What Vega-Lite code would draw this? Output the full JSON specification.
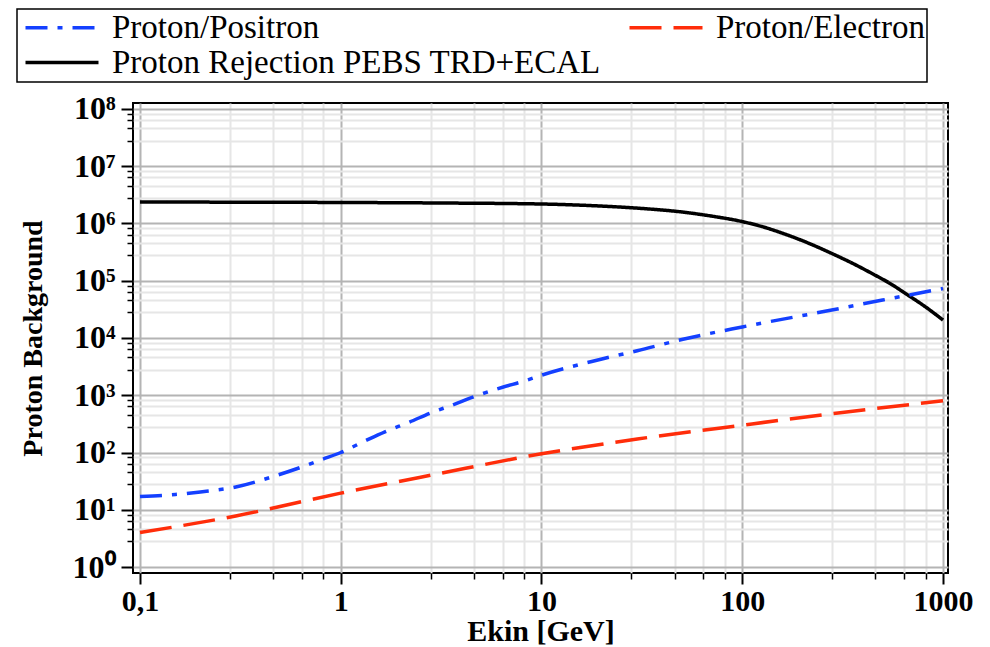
{
  "$schema": "https://vega.github.io/schema/vega-lite/v6.json",
  "width": 815,
  "height": 470,
  "autosize": {"type": "none"},
  "padding": {"left": 133, "top": 103, "right": 42, "bottom": 74},
  "background": "white",
  "config": {
    "view": {"stroke": "black", "strokeWidth": 2},
    "axis": {
      "labelFont": "Liberation Serif",
      "labelFontWeight": "bold",
      "labelFontSize": 30,
      "labelColor": "black",
      "titleFont": "Liberation Serif",
      "titleFontWeight": "bold",
      "titleFontSize": 30,
      "titleColor": "black",
      "domain": false,
      "tickColor": "black"
    },
    "legend": {
      "orient": "none",
      "legendX": -116,
      "legendY": -94,
      "direction": "horizontal",
      "columns": 2,
      "columnPadding": 21,
      "rowPadding": 1,
      "padding": 2,
      "strokeColor": "black",
      "strokeWidth": 1.5,
      "fillColor": "white",
      "symbolType": "M-1.333,0H8.4",
      "symbolSize": 225,
      "symbolStrokeWidth": 3.5,
      "labelFont": "Liberation Serif",
      "labelFontSize": 33,
      "labelColor": "black",
      "labelOffset": 60,
      "labelLimit": 0
    }
  },
  "data": {
    "values": [
      {"e": 0.1, "v": 2370000, "s": "Proton Rejection PEBS TRD+ECAL"},
      {"e": 1, "v": 2330000, "s": "Proton Rejection PEBS TRD+ECAL"},
      {"e": 3.16, "v": 2280000, "s": "Proton Rejection PEBS TRD+ECAL"},
      {"e": 10, "v": 2190000, "s": "Proton Rejection PEBS TRD+ECAL"},
      {"e": 19.6, "v": 2020000, "s": "Proton Rejection PEBS TRD+ECAL"},
      {"e": 31.7, "v": 1830000, "s": "Proton Rejection PEBS TRD+ECAL"},
      {"e": 50, "v": 1590000, "s": "Proton Rejection PEBS TRD+ECAL"},
      {"e": 70, "v": 1350000, "s": "Proton Rejection PEBS TRD+ECAL"},
      {"e": 100, "v": 1080000, "s": "Proton Rejection PEBS TRD+ECAL"},
      {"e": 125, "v": 887000, "s": "Proton Rejection PEBS TRD+ECAL"},
      {"e": 160, "v": 669000, "s": "Proton Rejection PEBS TRD+ECAL"},
      {"e": 213, "v": 456000, "s": "Proton Rejection PEBS TRD+ECAL"},
      {"e": 283, "v": 293000, "s": "Proton Rejection PEBS TRD+ECAL"},
      {"e": 356, "v": 200000, "s": "Proton Rejection PEBS TRD+ECAL"},
      {"e": 448, "v": 131000, "s": "Proton Rejection PEBS TRD+ECAL"},
      {"e": 545, "v": 89600, "s": "Proton Rejection PEBS TRD+ECAL"},
      {"e": 662, "v": 57500, "s": "Proton Rejection PEBS TRD+ECAL"},
      {"e": 813, "v": 35500, "s": "Proton Rejection PEBS TRD+ECAL"},
      {"e": 1000, "v": 20600, "s": "Proton Rejection PEBS TRD+ECAL"},
      {"e": 0.1, "v": 17, "s": "Proton/Positron"},
      {"e": 0.15, "v": 18.5, "s": "Proton/Positron"},
      {"e": 0.2, "v": 20.5, "s": "Proton/Positron"},
      {"e": 0.3, "v": 25, "s": "Proton/Positron"},
      {"e": 0.46, "v": 38, "s": "Proton/Positron"},
      {"e": 0.65, "v": 57, "s": "Proton/Positron"},
      {"e": 0.8, "v": 75, "s": "Proton/Positron"},
      {"e": 1, "v": 100, "s": "Proton/Positron"},
      {"e": 1.3, "v": 155, "s": "Proton/Positron"},
      {"e": 1.66, "v": 230, "s": "Proton/Positron"},
      {"e": 2.2, "v": 340, "s": "Proton/Positron"},
      {"e": 2.8, "v": 490, "s": "Proton/Positron"},
      {"e": 3.6, "v": 675, "s": "Proton/Positron"},
      {"e": 4.6, "v": 940, "s": "Proton/Positron"},
      {"e": 6.4, "v": 1380, "s": "Proton/Positron"},
      {"e": 8.2, "v": 1770, "s": "Proton/Positron"},
      {"e": 10, "v": 2240, "s": "Proton/Positron"},
      {"e": 20, "v": 4300, "s": "Proton/Positron"},
      {"e": 30, "v": 6000, "s": "Proton/Positron"},
      {"e": 50, "v": 9400, "s": "Proton/Positron"},
      {"e": 100, "v": 15600, "s": "Proton/Positron"},
      {"e": 275, "v": 30500, "s": "Proton/Positron"},
      {"e": 500, "v": 46000, "s": "Proton/Positron"},
      {"e": 1000, "v": 73000, "s": "Proton/Positron"},
      {"e": 0.1, "v": 4, "s": "Proton/Electron"},
      {"e": 0.3, "v": 7.8, "s": "Proton/Electron"},
      {"e": 1, "v": 19.5, "s": "Proton/Electron"},
      {"e": 3, "v": 42, "s": "Proton/Electron"},
      {"e": 10, "v": 95, "s": "Proton/Electron"},
      {"e": 30, "v": 172, "s": "Proton/Electron"},
      {"e": 100, "v": 300, "s": "Proton/Electron"},
      {"e": 300, "v": 490, "s": "Proton/Electron"},
      {"e": 1000, "v": 800, "s": "Proton/Electron"}
    ]
  },
  "layer": [
    {
      "mark": {"type": "point", "opacity": 0},
      "encoding": {
        "x": {
          "field": "e", "type": "quantitative",
          "scale": {"type": "log", "domain": [0.09229, 1059], "nice": false},
          "axis": {
            "orient": "bottom",
            "values": [0.28, 0.46, 0.64, 0.82, 2.8, 4.6, 6.4, 8.2, 28, 46, 64, 82, 280, 460, 640, 820],
            "labels": false, "title": null,
            "grid": true, "gridColor": "#e6e6e6", "gridWidth": 2,
            "tickSize": 6, "tickWidth": 1.5
          }
        },
        "y": {
          "field": "v", "type": "quantitative",
          "scale": {"type": "log", "domain": [0.7857, 127270000], "nice": false},
          "axis": {
            "orient": "left",
            "values": [2.8, 4.6, 6.4, 8.2, 28, 46, 64, 82, 280, 460, 640, 820, 2800, 4600, 6400, 8200, 28000, 46000, 64000, 82000, 280000, 460000, 640000, 820000, 2800000, 4600000, 6400000, 8200000, 28000000, 46000000, 64000000, 82000000],
            "labels": false, "title": null,
            "grid": true, "gridColor": "#e6e6e6", "gridWidth": 2,
            "tickSize": 6, "tickWidth": 1.5
          }
        }
      }
    },
    {
      "mark": {"type": "line", "strokeWidth": 3.5, "interpolate": "monotone"},
      "encoding": {
        "x": {
          "field": "e", "type": "quantitative",
          "scale": {"type": "log", "domain": [0.09229, 1059], "nice": false},
          "axis": {
            "orient": "bottom",
            "values": [0.1, 1, 10, 100, 1000],
            "labelExpr": "datum.value < 0.5 ? '0,1' : format(datum.value, 'd')",
            "title": "Ekin [GeV]",
            "grid": true, "gridColor": "#b4b4b4", "gridWidth": 2,
            "tickSize": 11, "tickWidth": 2,
            "labelPadding": 2, "titlePadding": 0
          }
        },
        "y": {
          "field": "v", "type": "quantitative",
          "scale": {"type": "log", "domain": [0.7857, 127270000], "nice": false},
          "axis": {
            "orient": "left",
            "values": [1, 10, 100, 1000, 10000, 100000, 1000000, 10000000, 100000000],
            "labelExpr": "'10' + ['⁰','¹','²','³','⁴','⁵','⁶','⁷','⁸'][round(log(datum.value)/LN10)]",
            "labelFontSize": 32,
            "title": "Proton Background",
            "titleFontSize": 28,
            "grid": true, "gridColor": "#b4b4b4", "gridWidth": 2,
            "tickSize": 12, "tickWidth": 2,
            "labelPadding": 6, "titlePadding": 25
          }
        },
        "color": {
          "field": "s", "type": "nominal",
          "scale": {
            "domain": ["Proton/Positron", "Proton/Electron", "Proton Rejection PEBS TRD+ECAL"],
            "range": ["#1440ff", "#ff2d0a", "#000000"]
          },
          "legend": {"title": null}
        },
        "strokeDash": {
          "field": "s", "type": "nominal",
          "scale": {
            "domain": ["Proton/Positron", "Proton/Electron", "Proton Rejection PEBS TRD+ECAL"],
            "range": [[22, 10, 5, 10], [32, 12], [1, 0]]
          },
          "legend": {"title": null}
        }
      }
    }
  ],
  "resolve": {"axis": {"x": "independent", "y": "independent"}}
}
